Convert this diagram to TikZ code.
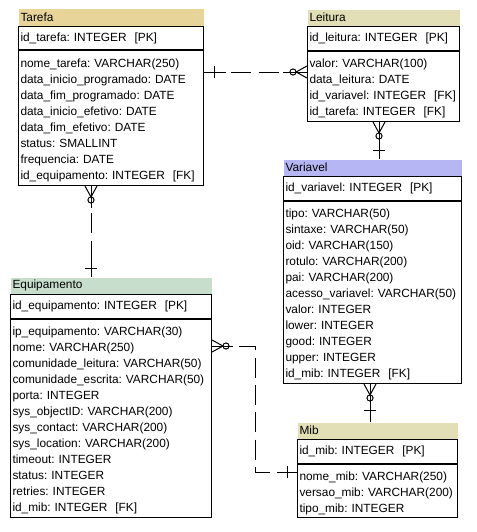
\documentclass[tikz,border=0pt]{standalone}
\usepackage{fontspec}
\setmainfont{Liberation Sans}
\definecolor{tarefahd}{RGB}{230,212,152}
\definecolor{leiturahd}{RGB}{226,223,182}
\definecolor{variavelhd}{RGB}{182,182,244}
\definecolor{equiphd}{RGB}{200,222,204}
\frenchspacing

\begin{document}
\begin{tikzpicture}[x=0.75pt,y=-0.75pt,line width=0.75pt,
  every node/.style={font=\fontsize{8.9}{12}\selectfont,inner xsep=1.5pt,inner ysep=0pt,anchor=north west,align=left,
    execute at begin node={\hyphenpenalty=10000\rightskip=0pt plus 1fil minus 40pt}},
  hd/.style={fill=#1,minimum height=12pt},
  pk/.style={draw,minimum height=18pt},
  bd/.style={draw,minimum height=#1,
    execute at begin node={\hyphenpenalty=10000\rightskip=0pt plus 1fil minus 40pt\rule{0pt}{10pt}}},
  rel/.style={dash pattern=on 15pt off 5.5pt}]
\useasboundingbox (0,0) rectangle (477,532);
% Tarefa
\node[hd=tarefahd,text width=135.75pt,minimum height=12.75pt] (tarefa-hd) at (18,8) {Tarefa};
\node[pk,text width=135.75pt,minimum height=17.25pt] (tarefa-pk) at (tarefa-hd.south west) {id\_tarefa: INTEGER\ \ [PK]};
\node[bd=101.25pt,text width=135.75pt] (tarefa-bd) at (tarefa-pk.south west) {nome\_tarefa: VARCHAR(250)\\data\_inicio\_programado: DATE\\data\_fim\_programado: DATE\\data\_inicio\_efetivo: DATE\\data\_fim\_efetivo: DATE\\status: SMALLINT\\frequencia: DATE\\id\_equipamento: INTEGER\ \ [FK]};
% Leitura
\node[hd=leiturahd,text width=111pt] (leitura-hd) at (307,9) {Leitura};
\node[pk,text width=111pt] (leitura-pk) at (leitura-hd.south west) {id\_leitura: INTEGER\ \ [PK]};
\node[bd=52.5pt,text width=111pt] (leitura-bd) at (leitura-pk.south west) {valor: VARCHAR(100)\\data\_leitura: DATE\\id\_variavel: INTEGER\ \ [FK]\\id\_tarefa: INTEGER\ \ [FK]};
% Variavel
\node[hd=variavelhd,text width=130.5pt] (variavel-hd) at (283,159) {Variavel};
\node[pk,text width=130.5pt] (variavel-pk) at (variavel-hd.south west) {id\_variavel: INTEGER\ \ [PK]};
\node[bd=136.5pt,text width=130.5pt] (variavel-bd) at (variavel-pk.south west) {tipo: VARCHAR(50)\\sintaxe: VARCHAR(50)\\oid: VARCHAR(150)\\rotulo: VARCHAR(200)\\pai: VARCHAR(200)\\acesso\_variavel: VARCHAR(50)\\valor: INTEGER\\lower: INTEGER\\good: INTEGER\\upper: INTEGER\\id\_mib: INTEGER\ \ [FK]};
% Equipamento
\node[hd=equiphd,text width=147.75pt] (equip-hd) at (10,277) {Equipamento};
\node[pk,text width=147.75pt] (equip-pk) at (equip-hd.south west) {id\_equipamento: INTEGER\ \ [PK]};
\node[bd=148.5pt,text width=147.75pt] (equip-bd) at (equip-pk.south west) {ip\_equipamento: VARCHAR(30)\\nome: VARCHAR(250)\\comunidade\_leitura: VARCHAR(50)\\comunidade\_escrita: VARCHAR(50)\\porta: INTEGER\\sys\_objectID: VARCHAR(200)\\sys\_contact: VARCHAR(200)\\sys\_location: VARCHAR(200)\\timeout: INTEGER\\status: INTEGER\\retries: INTEGER\\id\_mib: INTEGER\ \ [FK]};
% Mib
\node[hd=leiturahd,text width=117pt] (mib-hd) at (297,422) {Mib};
\node[pk,text width=117pt] (mib-pk) at (mib-hd.south west) {id\_mib: INTEGER\ \ [PK]};
\node[bd=39.75pt,text width=117pt] (mib-bd) at (mib-pk.south west) {nome\_mib: VARCHAR(250)\\versao\_mib: VARCHAR(200)\\tipo\_mib: INTEGER};

% Tarefa -- Leitura
\coordinate (tl-a) at (tarefa-bd.east |- 0,72);
\coordinate (tl-b) at (leitura-bd.west |- 0,72);
\draw[rel] (tl-a) -- (tl-b);
\draw (tl-a) -- ([shift={(22,0)}]tl-a);
\draw ([shift={(10,-6)}]tl-a) -- ([shift={(10,6)}]tl-a);
\draw (tl-b) -- ([shift={(-24,0)}]tl-b);
\draw ([shift={(0,-6)}]tl-b) -- ([shift={(-11,0)}]tl-b) -- ([shift={(0,6)}]tl-b);
\draw ([shift={(-14,0)}]tl-b) circle[radius=2.3pt];

% Leitura -- Variavel
\coordinate (lv-a) at (leitura-bd.south -| 379,0);
\coordinate (lv-b) at (variavel-hd.north -| 379,0);
\draw (lv-a) -- (lv-b);
\draw ([shift={(-6,0)}]lv-a) -- ([shift={(0,11)}]lv-a) -- ([shift={(6,0)}]lv-a);
\draw ([shift={(0,14)}]lv-a) circle[radius=2.3pt];
\draw ([shift={(-6,-9)}]lv-b) -- ([shift={(6,-9)}]lv-b);

% Tarefa -- Equipamento
\coordinate (te-a) at (tarefa-bd.south -| 91,0);
\coordinate (te-b) at (equip-hd.north -| 91,0);
\draw[rel] (te-a) -- (te-b);
\draw (te-a) -- ([shift={(0,22)}]te-a);
\draw ([shift={(-6,0)}]te-a) -- ([shift={(0,11)}]te-a) -- ([shift={(6,0)}]te-a);
\draw ([shift={(0,14)}]te-a) circle[radius=2.3pt];
\draw (te-b) -- ([shift={(0,-18)}]te-b);
\draw ([shift={(-6,-9)}]te-b) -- ([shift={(6,-9)}]te-b);

% Variavel -- Mib
\coordinate (vm-a) at (variavel-bd.south -| 370,0);
\coordinate (vm-b) at (mib-hd.north -| 370,0);
\draw (vm-a) -- (vm-b);
\draw ([shift={(-6,0)}]vm-a) -- ([shift={(0,11)}]vm-a) -- ([shift={(6,0)}]vm-a);
\draw ([shift={(0,14)}]vm-a) circle[radius=2.3pt];
\draw ([shift={(-6,-12)}]vm-b) -- ([shift={(6,-12)}]vm-b);

% Equipamento -- Mib
\coordinate (em-a) at (equip-bd.east |- 0,346);
\coordinate (em-b) at (mib-bd.west |- 0,472);
\draw[rel] (em-a) -- ++(43,0) |- (em-b);
\draw (em-a) -- ([shift={(21,0)}]em-a);
\draw ([shift={(0,-6)}]em-a) -- ([shift={(11,0)}]em-a) -- ([shift={(0,6)}]em-a);
\draw ([shift={(14,0)}]em-a) circle[radius=2.3pt];
\draw (em-b) -- ([shift={(-20,0)}]em-b);
\draw ([shift={(-10,-6)}]em-b) -- ([shift={(-10,6)}]em-b);
\end{tikzpicture}
\end{document}
